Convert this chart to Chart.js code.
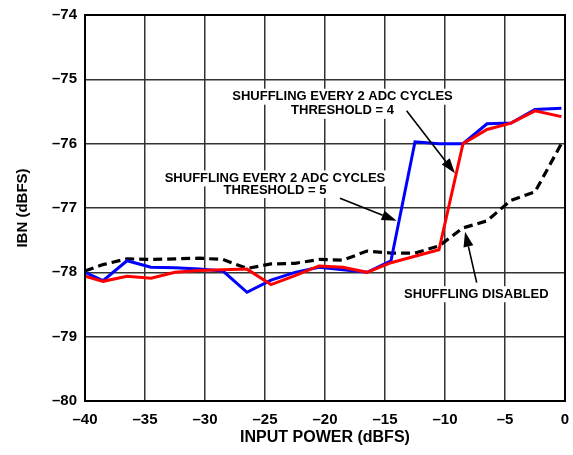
<!DOCTYPE html>
<html>
<head>
<meta charset="utf-8">
<script src="https://cdn.jsdelivr.net/npm/chart.js@4.4.1/dist/chart.umd.min.js"></script>
<style>
  html, body { margin: 0; padding: 0; background: #fff; }
  #wrap { width: 573px; height: 455px; }
</style>
</head>
<body>
<div id="wrap"><canvas id="ibnChart" width="573" height="455"></canvas></div>
<script>
// input power points (dBFS)
const inputPower = [-40, -38.5, -36.5, -34.5, -32.5, -30.5, -28.5, -26.5, -24.5, -22.5,
  -20.5, -18.5, -16.5, -14.5, -12.5, -10.5, -8.5, -6.5, -4.5, -2.5, -0.3];

// IBN (dBFS)
const thresh5 = [-78.0, -78.13, -77.82, -77.92, -77.93, -77.95, -77.98, -78.31, -78.12, -78.0,
  -77.92, -77.96, -78.0, -77.82, -75.97, -76.0, -76.0, -75.69, -75.68, -75.47, -75.45];
const thresh4 = [-78.06, -78.14, -78.06, -78.09, -78.0, -77.97, -77.96, -77.95, -78.19, -78.05,
  -77.9, -77.92, -78.0, -77.85, -77.75, -77.65, -76.0, -75.78, -75.68, -75.49, -75.58];
const disabled = [-77.98, -77.88, -77.79, -77.8, -77.79, -77.78, -77.8, -77.94, -77.87, -77.86,
  -77.8, -77.81, -77.67, -77.7, -77.7, -77.59, -77.31, -77.2, -76.88, -76.75, -76.0];

const xTicks = [-40, -35, -30, -25, -20, -15, -10, -5, 0];
const yTicks = [-80, -79, -78, -77, -76, -75, -74];

// callouts: text lines, text centre, arrow tail and head (all in data units)
const callouts = [
  { lines: ["SHUFFLING EVERY 2 ADC CYCLES", "THRESHOLD = 4"], x: -18.54, y: [-75.27, -75.49],
    from: [-13.2, -75.49], to: [-9.17, -76.46] },
  { lines: ["SHUFFLING EVERY 2 ADC CYCLES", "THRESHOLD = 5"], x: -24.17, y: [-76.54, -76.72],
    from: [-18.75, -76.85], to: [-14.03, -77.2] },
  { lines: ["SHUFFLING DISABLED"], x: -7.39, y: [-78.34],
    from: [-7.36, -78.16], to: [-8.33, -77.37] }
];

const FONT = '"Liberation Sans", Arial, Helvetica, sans-serif';

function pts(ys) {
  return inputPower.map((x, i) => ({ x: x, y: ys[i] }));
}
function dash(v) {
  return v < 0 ? '\u2013' + Math.abs(v) : String(v);
}

const calloutPlugin = {
  id: 'callouts',
  beforeDatasetsDraw(chart) {
    // white boxes so the grid breaks round the text
    const ctx = chart.ctx, sx = chart.scales.x, sy = chart.scales.y;
    ctx.save();
    ctx.font = 'bold 13px ' + FONT;
    ctx.fillStyle = '#fff';
    callouts.forEach(c => {
      c.lines.forEach((t, i) => {
        const w = ctx.measureText(t).width;
        const cx = sx.getPixelForValue(c.x), cy = sy.getPixelForValue(c.y[i]);
        ctx.fillRect(cx - w / 2 - 3, cy - 8, w + 6, 16);
      });
    });
    ctx.restore();
  },
  afterDatasetsDraw(chart) {
    const ctx = chart.ctx, sx = chart.scales.x, sy = chart.scales.y;
    const area = chart.chartArea;
    ctx.save();
    // frame
    ctx.strokeStyle = '#000';
    ctx.lineWidth = 2;
    ctx.strokeRect(area.left, area.top, area.right - area.left, area.bottom - area.top);

    ctx.font = 'bold 13px ' + FONT;
    ctx.fillStyle = '#000';
    ctx.textAlign = 'center';
    ctx.textBaseline = 'middle';
    callouts.forEach(c => {
      c.lines.forEach((t, i) => {
        ctx.fillText(t, sx.getPixelForValue(c.x), sy.getPixelForValue(c.y[i]));
      });
      const x1 = sx.getPixelForValue(c.from[0]), y1 = sy.getPixelForValue(c.from[1]);
      const x2 = sx.getPixelForValue(c.to[0]), y2 = sy.getPixelForValue(c.to[1]);
      const ang = Math.atan2(y2 - y1, x2 - x1);
      const hl = 15, hw = 5;
      ctx.lineWidth = 1.6;
      ctx.beginPath();
      ctx.moveTo(x1, y1);
      ctx.lineTo(x2 - Math.cos(ang) * hl, y2 - Math.sin(ang) * hl);
      ctx.stroke();
      ctx.beginPath();
      ctx.moveTo(x2, y2);
      ctx.lineTo(x2 - Math.cos(ang) * hl - Math.sin(ang) * hw, y2 - Math.sin(ang) * hl + Math.cos(ang) * hw);
      ctx.lineTo(x2 - Math.cos(ang) * hl + Math.sin(ang) * hw, y2 - Math.sin(ang) * hl - Math.cos(ang) * hw);
      ctx.closePath();
      ctx.fill();
    });
    ctx.restore();
  }
};

new Chart(document.getElementById('ibnChart').getContext('2d'), {
  type: 'line',
  data: {
    datasets: [
      { label: 'Threshold = 4', data: pts(thresh4), borderColor: '#ff0000', borderWidth: 3, order: 1 },
      { label: 'Threshold = 5', data: pts(thresh5), borderColor: '#0000ff', borderWidth: 3, order: 2 },
      { label: 'Shuffling disabled', data: pts(disabled), borderColor: '#000', borderWidth: 3.2,
        borderDash: [9, 5], order: 3 }
    ]
  },
  options: {
    responsive: false,
    animation: false,
    events: [],
    layout: { padding: { top: 15, right: 8, left: 0, bottom: 0 } },
    elements: { point: { radius: 0 }, line: { tension: 0 } },
    plugins: { legend: { display: false }, tooltip: { enabled: false } },
    scales: {
      x: {
        type: 'linear',
        min: -40, max: 0,
        afterFit(s) { s.height = 54; s.paddingLeft = 0; s.paddingRight = 0; },
        afterBuildTicks(s) { s.ticks = xTicks.map(v => ({ value: v })); },
        grid: { color: '#333', lineWidth: 1.5, drawTicks: false },
        border: { display: false },
        ticks: { color: '#000', padding: 10, maxRotation: 0, font: { family: FONT, size: 15, weight: 'bold' },
          callback: v => dash(v) },
        title: { display: true, text: 'INPUT POWER (dBFS)', color: '#000', padding: { top: 0, bottom: 8 },
          font: { family: FONT, size: 16, weight: 'bold' } }
      },
      y: {
        min: -80, max: -74,
        afterFit(s) { s.width = 85; s.paddingTop = 0; s.paddingBottom = 0; },
        afterBuildTicks(s) { s.ticks = yTicks.map(v => ({ value: v })); },
        grid: { color: '#333', lineWidth: 1.5, drawTicks: false },
        border: { display: false },
        ticks: { color: '#000', padding: 8, font: { family: FONT, size: 15, weight: 'bold' },
          callback: v => dash(v) },
        title: { display: true, text: 'IBN (dBFS)', color: '#000', padding: { top: 14, bottom: 0 },
          font: { family: FONT, size: 15, weight: 'bold' } }
      }
    }
  },
  plugins: [calloutPlugin]
});
</script>
</body>
</html>
